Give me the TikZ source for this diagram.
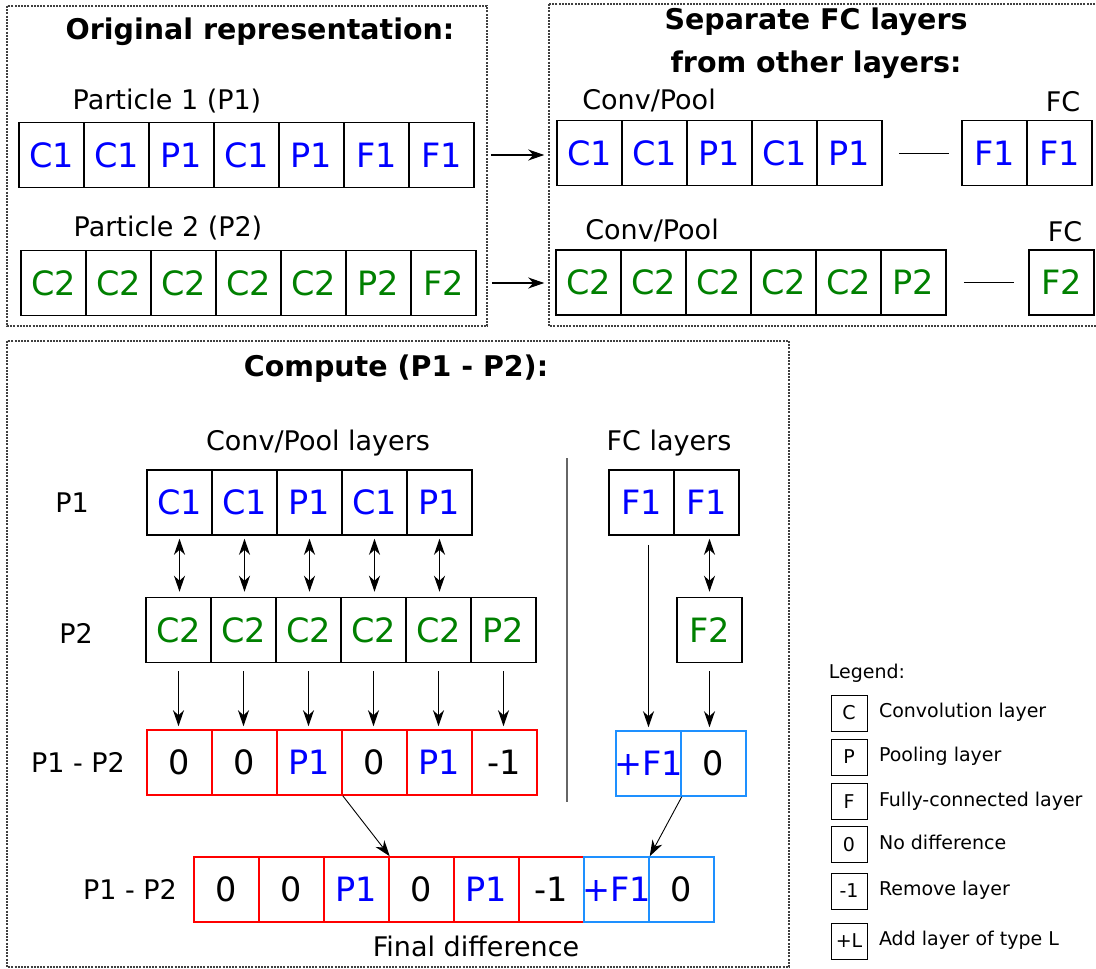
\documentclass[tikz,border=0pt]{standalone}
\usepackage{fontspec}
\setmainfont{DejaVu Sans}
\usetikzlibrary{arrows.meta, positioning}

\definecolor{pone}{RGB}{0,0,255}
\definecolor{ptwo}{RGB}{0,128,0}
\definecolor{diffred}{RGB}{255,0,0}
\definecolor{diffblue}{RGB}{30,144,255}

\tikzset{
  cell/.style={draw, line width=1.5pt, minimum width=65pt, minimum height=65pt, inner sep=0pt, font=\fontsize{33.5}{40}\selectfont},
  keycell/.style={draw, line width=1pt, minimum width=36pt, minimum height=36pt, inner sep=0pt, font=\fontsize{19}{23}\selectfont},
  panel/.style={draw=black!75, line width=1.2pt, dash pattern=on 2pt off 1.2pt},
  title/.style={font=\fontsize{28.5}{43}\selectfont\bfseries, align=center},
  lbl/.style={font=\fontsize{27}{32}\selectfont},
  keytext/.style={font=\fontsize{19}{23}\selectfont, anchor=west, text height=14pt, text depth=4.5pt},
  arr/.style={line width=1.1pt, -{Stealth[length=16pt, width=11pt, inset=5pt]}},
  dbl/.style={line width=1.1pt, {Stealth[length=16pt, width=11pt, inset=5pt]}-{Stealth[length=16pt, width=11pt, inset=5pt]}},
}

\begin{document}
\begin{tikzpicture}[x=1pt, y=-1pt]
    \useasboundingbox (0,0) rectangle (1096,969);

    % Dotted panels
    \draw[panel] (7,6) rectangle (487,326);
    \draw[panel] (549,4) rectangle (1100,326);
    \draw[panel] (7,341) rectangle (789,967);

    % Top left: both particles as they are
    \node[title] (origtitle) at (260,32) {Original representation:};
    \node[lbl] (ponelbl) at (167,101) {Particle 1 (P1)};
    \foreach \t [count=\i] in {C1,C1,P1,C1,P1,F1,F1}
        \node[cell, text=pone] (a\i) at ({51.5+65*(\i-1)},155) {\t};
    \node[lbl] (ptwolbl) at (168,228) {Particle 2 (P2)};
    \foreach \t [count=\i] in {C2,C2,C2,C2,C2,P2,F2}
        \node[cell, text=ptwo] (b\i) at ({53.5+65*(\i-1)},283) {\t};

    % Top right: conv/pool part and FC part split
    \node[title] (septitle) at (816,43) {Separate FC layers\\from other layers:};
    \node[lbl] (cpone) at (649,100) {Conv/Pool};
    \foreach \t [count=\i] in {C1,C1,P1,C1,P1}
        \node[cell, text=pone] (c\i) at ({589.5+65*(\i-1)},153) {\t};
    \node[lbl] (fcone) at (1063,102) {FC};
    \foreach \t [count=\i] in {F1,F1}
        \node[cell, text=pone] (d\i) at ({994.5+65*(\i-1)},153) {\t};
    \draw[line width=0.9pt] ([xshift=16pt]c5.east) -- ([xshift=-12pt]d1.west);

    \node[lbl] (cptwo) at (652,230) {Conv/Pool};
    \foreach \t [count=\i] in {C2,C2,C2,C2,C2,P2}
        \node[cell, text=ptwo] (e\i) at ({588.5+65*(\i-1)},282.5) {\t};
    \node[lbl] (fctwo) at (1065,232) {FC};
    \node[cell, text=ptwo] (g1) at (1061.5,282.5) {F2};
    \draw[line width=0.9pt] ([xshift=17pt]e6.east) -- ([xshift=-14pt]g1.west);

    \draw[arr] ([xshift=16pt]a7.east) -- ([xshift=-12pt]c1.west |- a7.east);
    \draw[arr] ([xshift=15pt]b7.east) -- ([xshift=-11pt]e1.west |- b7.east);

    % Bottom: layer-wise difference
    \node[title] (comptitle) at (396,369) {Compute (P1 - P2):};
    \node[lbl] (cplayers) at (318,443) {Conv/Pool layers};
    \node[lbl] (fclayers) at (669,443) {FC layers};
    \draw[black!60, line width=1.2pt] (567,458) -- (567,802);

    \node[lbl] (rowone) at (72,503) {P1};
    \foreach \t [count=\i] in {C1,C1,P1,C1,P1}
        \node[cell, text=pone] (h\i) at ({179.5+65*(\i-1)},502.5) {\t};
    \foreach \t [count=\i] in {F1,F1}
        \node[cell, text=pone] (k\i) at ({641.5+65*(\i-1)},502.5) {\t};

    \node[lbl] (rowtwo) at (76,633) {P2};
    \foreach \t [count=\i] in {C2,C2,C2,C2,C2,P2}
        \node[cell, text=ptwo] (m\i) at ({178.5+65*(\i-1)},630) {\t};
    \node[cell, text=ptwo] (n1) at (709.5,630) {F2};

    \node[lbl] (rowdiff) at (78,762) {P1 - P2};
    \foreach \t/\c [count=\i] in {0/black,0/black,P1/pone,0/black,P1/pone,-1/black}
        \node[cell, draw=diffred, text=\c] (p\i) at ({179.5+65*(\i-1)},762.5) {\t};
    \foreach \t/\c [count=\i] in {+F1/pone,0/black}
        \node[cell, draw=diffblue, text=\c] (q\i) at ({648.5+65*(\i-1)},763.5) {\makebox[0pt]{\t}};

    \foreach \i in {1,...,5}
        \draw[dbl, shorten <=3pt, shorten >=5pt] (h\i.south) -- (h\i.south |- m\i.north);
    \foreach \i in {1,...,6}
        \draw[arr, shorten <=8pt, shorten >=3pt] (m\i.south) -- (m\i.south |- p\i.north);
    \draw[dbl, shorten <=3pt, shorten >=5pt] (n1.north |- k2.south) -- (n1.north);
    \draw[arr, shorten <=9pt, shorten >=3pt] (q1.north |- k1.south) -- (q1.north);
    \draw[arr, shorten <=8pt, shorten >=3pt] (n1.south) -- (n1.south |- q2.north);

    % Merged result
    \node[lbl] (rowfinal) at (130,889.5) {P1 - P2};
    \foreach \t/\c [count=\i] in {0/black,0/black,P1/pone,0/black,P1/pone,-1/black}
        \node[cell, draw=diffred, text=\c] (r\i) at ({226.5+65*(\i-1)},889.5) {\t};
    \foreach \t/\c [count=\i from 7] in {+F1/pone,0/black}
        \node[cell, draw=diffblue, text=\c] (r\i) at ({226.5+65*(\i-1)},889.5) {\makebox[0pt]{\t}};
    \node[lbl] (finallbl) at (476,946) {Final difference};

    \draw[arr, line width=0.9pt] (p3.south east) -- (r3.north east);
    \draw[arr, line width=0.9pt] (q1.south east) -- (r7.north east);

    % Legend
    \node[keytext, anchor=center] (legendlbl) at (867,674) {Legend:};
    \foreach \k/\d/\y [count=\i] in {C/Convolution layer/713, P/Pooling layer/757, F/Fully-connected layer/801.5, 0/No difference/844.5, -1/Remove layer/891, +L/Add layer of type L/941} {
        \node[keycell] (key\i) at (849,\y) {\k};
        \node[keytext] (keytxt\i) at ([xshift=8pt]key\i.east) {\d};
    }
\end{tikzpicture}
\end{document}
